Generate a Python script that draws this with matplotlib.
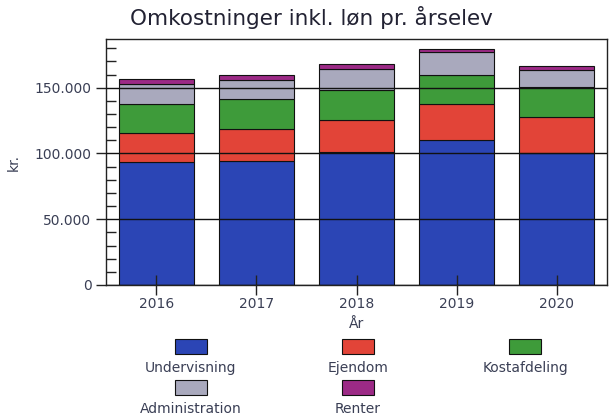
import matplotlib.pyplot as plt
from matplotlib.patches import Rectangle
from matplotlib.ticker import MultipleLocator, FuncFormatter

years = ['2016', '2017', '2018', '2019', '2020']
undervisning = [93400, 94600, 101500, 110400, 100700]
ejendom = [22500, 23900, 24100, 27100, 27200]
kostafdeling = [21600, 23000, 22800, 22500, 23000]
administration = [15200, 14500, 16200, 17300, 12700]
renter = [3800, 4000, 3300, 2500, 3100]

series = [undervisning, ejendom, kostafdeling, administration, renter]
names = ['Undervisning', 'Ejendom', 'Kostafdeling', 'Administration', 'Renter']
colors = ['#2b45b5', '#e24438', '#3e9b3a', '#a9a9bd', '#9c2a86']
txt = '#3a3f55'

fig = plt.figure(figsize=(6.1, 4.16), dpi=100)
ax = fig.add_axes([0.174, 0.315, 0.821, 0.591])

x = range(len(years))
bottom = [0] * len(years)
for vals, c in zip(series, colors):
    ax.bar(x, vals, 0.75, bottom=bottom, color=c, edgecolor='#111111', linewidth=0.8, zorder=2)
    bottom = [b + v for b, v in zip(bottom, vals)]

ax.set_xlim(-0.5, 4.5)
ax.set_ylim(0, 187000)
ax.set_xticks(list(x))
ax.set_xticklabels(years)
ax.yaxis.set_major_locator(MultipleLocator(50000))
ax.yaxis.set_minor_locator(MultipleLocator(10000))
ax.yaxis.set_major_formatter(FuncFormatter(lambda v, p: f'{int(v):,}'.replace(',', '.')))
ax.tick_params(axis='y', which='major', direction='out', length=7, width=1, colors='#222222', labelcolor=txt, labelsize=10)
ax.tick_params(axis='y', which='minor', direction='in', length=7, width=1, colors='#222222')
ax.tick_params(axis='x', direction='inout', length=14, width=1, colors='#222222', labelcolor=txt, labelsize=10, pad=2)
ax.grid(axis='y', which='major', color='#111111', linewidth=1, zorder=3)
ax.set_axisbelow(False)
for s in ax.spines.values():
    s.set_color('#222222')
    s.set_linewidth(1)

ax.set_ylabel('kr.', color=txt, fontsize=10)
ax.yaxis.set_label_coords(-0.17, 0.5)
ax.set_xlabel('År', color=txt, fontsize=10, labelpad=4)
fig.suptitle('Omkostninger inkl. løn pr. årselev', x=0.51, y=0.985, fontsize=15.5, color='#222233')

# legend: swatch above label, three columns
W, H = 610, 416
cols = [191, 358, 525]
rows = [(346, 368), (387, 409)]
for i, (name, c) in enumerate(zip(names, colors)):
    cx = cols[i % 3]
    py, ty = rows[i // 3]
    fig.patches.append(Rectangle(((cx - 16) / W, 1 - (py + 7.5) / H), 32 / W, 15 / H,
                                 transform=fig.transFigure, facecolor=c, edgecolor='#111111', linewidth=0.8))
    fig.text(cx / W, 1 - ty / H, name, ha='center', va='center', color=txt, fontsize=10)

fig.savefig('out.png', dpi=100)
